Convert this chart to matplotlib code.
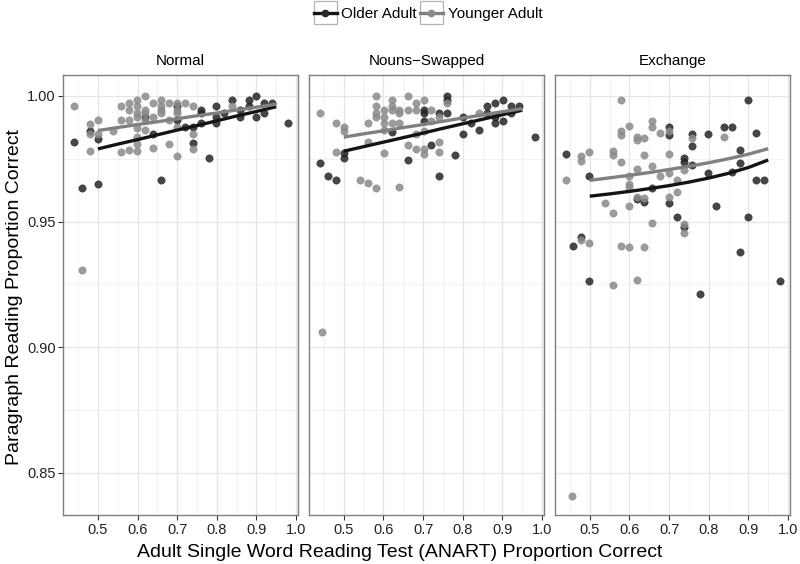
import matplotlib
matplotlib.use('Agg')
import matplotlib.pyplot as plt
from matplotlib.lines import Line2D
from matplotlib.patches import Rectangle
from matplotlib.legend_handler import HandlerLine2D
from matplotlib.ticker import MultipleLocator

plt.rcParams['font.family'] = ['Liberation Sans', 'DejaVu Sans']

panels = ['Normal', 'Nouns\u2212Swapped', 'Exchange']
groups = ['Older Adult', 'Younger Adult']

# Normal
normal_old_x = [0.439, 0.459, 0.479, 0.500, 0.500, 0.620, 0.639, 0.660, 0.700, 0.700, 0.720, 0.740, 0.740, 0.759, 0.759, 0.759,
                0.780, 0.799, 0.799, 0.799, 0.818, 0.839, 0.859, 0.859, 0.880, 0.880, 0.900, 0.900, 0.919, 0.919, 0.940, 0.980]
normal_old_y = [0.9818, 0.9632, 0.9862, 0.9829, 0.9651, 0.9914, 0.9849, 0.9667, 0.9958, 0.9904, 0.9875, 0.9875, 0.9812, 0.9943,
                0.9930, 0.9891, 0.9754, 0.9958, 0.9917, 0.9891, 0.9930, 0.9984, 0.9943, 0.9917, 0.9984, 0.9958, 0.9999, 0.9917,
                0.9971, 0.9930, 0.9971, 0.9891]
normal_young_x = [0.439, 0.479, 0.479, 0.479, 0.500, 0.500, 0.538, 0.559, 0.559, 0.559, 0.578, 0.578, 0.578, 0.578, 0.599, 0.599,
                  0.599, 0.599, 0.599, 0.599, 0.599, 0.599, 0.620, 0.620, 0.620, 0.620, 0.620, 0.639, 0.639, 0.639, 0.660, 0.660,
                  0.660, 0.660, 0.679, 0.679, 0.679, 0.700, 0.700, 0.700, 0.700, 0.700, 0.720, 0.740, 0.740, 0.740, 0.839, 0.459]
normal_young_y = [0.9958, 0.9888, 0.9849, 0.9780, 0.9904, 0.9849, 0.9862, 0.9958, 0.9904, 0.9776, 0.9971, 0.9945, 0.9904, 0.9786,
                  0.9984, 0.9958, 0.9930, 0.9917, 0.9872, 0.9838, 0.9807, 0.9780, 0.9999, 0.9943, 0.9930, 0.9904, 0.9864, 0.9971,
                  0.9917, 0.9793, 0.9984, 0.9958, 0.9943, 0.9930, 0.9971, 0.9904, 0.9809, 0.9971, 0.9943, 0.9930, 0.9875, 0.9759,
                  0.9971, 0.9958, 0.9849, 0.9790, 0.9958, 0.9306]

# Nouns-Swapped
swapped_old_x = [0.440, 0.461, 0.481, 0.500, 0.500, 0.621, 0.661, 0.701, 0.701, 0.701, 0.721, 0.741, 0.741, 0.761, 0.761, 0.761,
                 0.781, 0.801, 0.801, 0.821, 0.842, 0.861, 0.861, 0.882, 0.882, 0.882, 0.902, 0.902, 0.922, 0.922, 0.941, 0.981]
swapped_old_y = [0.9734, 0.9680, 0.9667, 0.9772, 0.9753, 0.9855, 0.9746, 0.9943, 0.9930, 0.9901, 0.9805, 0.9930, 0.9680, 0.9999,
                 0.9984, 0.9930, 0.9763, 0.9917, 0.9849, 0.9891, 0.9864, 0.9958, 0.9930, 0.9971, 0.9917, 0.9891, 0.9984, 0.9901,
                 0.9958, 0.9930, 0.9958, 0.9836]
swapped_young_x = [0.440, 0.481, 0.481, 0.500, 0.500, 0.540, 0.561, 0.561, 0.561, 0.581, 0.581, 0.581, 0.581, 0.581, 0.601, 0.601,
                   0.601, 0.601, 0.601, 0.621, 0.621, 0.621, 0.621, 0.640, 0.640, 0.640, 0.640, 0.661, 0.661, 0.661, 0.681, 0.681,
                   0.681, 0.681, 0.701, 0.701, 0.701, 0.701, 0.721, 0.721, 0.741, 0.741, 0.741, 0.761, 0.842, 0.444]
swapped_young_y = [0.9930, 0.9891, 0.9776, 0.9875, 0.9862, 0.9667, 0.9891, 0.9818, 0.9654, 0.9999, 0.9958, 0.9930, 0.9917, 0.9632,
                   0.9943, 0.9917, 0.9891, 0.9864, 0.9772, 0.9984, 0.9958, 0.9943, 0.9891, 0.9943, 0.9930, 0.9891, 0.9638, 0.9999,
                   0.9943, 0.9805, 0.9971, 0.9943, 0.9849, 0.9790, 0.9984, 0.9862, 0.9790, 0.9770, 0.9943, 0.9901, 0.9917, 0.9816,
                   0.9776, 0.9971, 0.9930, 0.9060]

# Exchange
exchange_old_x = [0.439, 0.498, 0.658, 0.699, 0.699, 0.738, 0.738, 0.759, 0.759, 0.759, 0.799, 0.799, 0.839, 0.859, 0.859, 0.880,
                  0.880, 0.900, 0.919, 0.919, 0.939, 0.619, 0.638, 0.699, 0.719, 0.738, 0.819, 0.900, 0.458, 0.477, 0.880, 0.498,
                  0.779, 0.980]
exchange_old_y = [0.9767, 0.9680, 0.9632, 0.9875, 0.9846, 0.9754, 0.9737, 0.9849, 0.9799, 0.9726, 0.9849, 0.9693, 0.9875, 0.9875,
                  0.9697, 0.9786, 0.9733, 0.9984, 0.9851, 0.9667, 0.9667, 0.9589, 0.9576, 0.9572, 0.9519, 0.9480, 0.9563, 0.9519,
                  0.9401, 0.9440, 0.9377, 0.9263, 0.9213, 0.9263]
exchange_young_x = [0.439, 0.477, 0.477, 0.498, 0.558, 0.558, 0.578, 0.578, 0.578, 0.578, 0.598, 0.598, 0.598, 0.598, 0.619, 0.619,
                    0.619, 0.619, 0.638, 0.638, 0.638, 0.658, 0.658, 0.658, 0.678, 0.678, 0.699, 0.699, 0.699, 0.699, 0.719, 0.719,
                    0.738, 0.759, 0.839, 0.538, 0.558, 0.598, 0.658, 0.738, 0.738, 0.477, 0.498, 0.578, 0.598, 0.638, 0.558, 0.619,
                    0.455]
exchange_young_y = [0.9667, 0.9759, 0.9741, 0.9776, 0.9780, 0.9763, 0.9984, 0.9862, 0.9846, 0.9737, 0.9879, 0.9680, 0.9651, 0.9638,
                    0.9836, 0.9825, 0.9711, 0.9599, 0.9832, 0.9763, 0.9592, 0.9901, 0.9875, 0.9720, 0.9851, 0.9680, 0.9862, 0.9767,
                    0.9693, 0.9599, 0.9667, 0.9618, 0.9704, 0.9833, 0.9838, 0.9572, 0.9533, 0.9563, 0.9493, 0.9454, 0.9489, 0.9425,
                    0.9414, 0.9404, 0.9399, 0.9399, 0.9249, 0.9266, 0.8410]

# fitted lines
fit_x = [0.50, 0.55, 0.60, 0.65, 0.70, 0.75, 0.80, 0.85, 0.90, 0.95]
normal_old_fit = [0.9789, 0.9808, 0.9826, 0.9845, 0.9864, 0.9882, 0.9901, 0.9920, 0.9938, 0.9957]
normal_young_fit = [0.9862, 0.9874, 0.9886, 0.9897, 0.9909, 0.9921, 0.9932, 0.9944, 0.9955, 0.9967]
swapped_old_fit = [0.9780, 0.9798, 0.9816, 0.9834, 0.9852, 0.9871, 0.9889, 0.9907, 0.9925, 0.9943]
swapped_young_fit = [0.9836, 0.9849, 0.9861, 0.9874, 0.9886, 0.9899, 0.9912, 0.9924, 0.9937, 0.9949]
exchange_old_fit = [0.9601, 0.9610, 0.9620, 0.9631, 0.9643, 0.9657, 0.9673, 0.9692, 0.9715, 0.9745]
exchange_young_fit = [0.9664, 0.9674, 0.9684, 0.9695, 0.9707, 0.9720, 0.9734, 0.9750, 0.9768, 0.9790]

data = [
    [(normal_old_x, normal_old_y, normal_old_fit), (normal_young_x, normal_young_y, normal_young_fit)],
    [(swapped_old_x, swapped_old_y, swapped_old_fit), (swapped_young_x, swapped_young_y, swapped_young_fit)],
    [(exchange_old_x, exchange_old_y, exchange_old_fit), (exchange_young_x, exchange_young_y, exchange_young_fit)],
]
colors = {'Older Adult': '#262626', 'Younger Adult': '#8a8a8a'}
line_colors = {'Older Adult': '#141414', 'Younger Adult': '#808080'}

fig, axs = plt.subplots(1, 3, figsize=(8, 5.64), dpi=100, sharey=True)
fig.subplots_adjust(left=0.079, right=0.9875, bottom=0.087, top=0.867, wspace=0.047)

for ax, name, pdata in zip(axs, panels, data):
    for grp, (xs, ys, fit) in zip(groups, pdata):
        ax.scatter(xs, ys, s=28, color=colors[grp], alpha=0.85, linewidths=0.4,
                   edgecolors=colors[grp], zorder=3)
    for grp, (xs, ys, fit) in zip(groups, pdata):
        ax.plot(fit_x, fit, color=line_colors[grp], lw=2.4, zorder=4, solid_capstyle='butt')
    ax.set_xlim(0.4125, 1.005)
    ax.set_ylim(0.8333, 1.0083)
    ax.xaxis.set_minor_locator(MultipleLocator(0.05))
    ax.yaxis.set_minor_locator(MultipleLocator(0.025))
    ax.set_xticks([0.5, 0.6, 0.7, 0.8, 0.9, 1.0])
    ax.set_xticklabels(['0.5', '0.6', '0.7', '0.8', '0.9', '1.0'])
    ax.grid(which='major', color='#e6e6e6', lw=0.9)
    ax.grid(which='minor', color='#f0f0f0', lw=0.6)
    ax.set_axisbelow(True)
    ax.tick_params(which='major', direction='out', length=3.5, width=0.8, color='#333333',
                   labelsize=10.5, labelcolor='#222222', pad=2)
    ax.tick_params(which='minor', length=0)
    for sp in ax.spines.values():
        sp.set_color('#7f7f7f')
        sp.set_linewidth(1.0)
    ax.set_title(name, fontsize=11, pad=7)

axs[0].set_yticks([0.85, 0.90, 0.95, 1.00])
axs[0].set_yticklabels(['0.85', '0.90', '0.95', '1.00'])
for ax in axs[1:]:
    ax.tick_params(axis='y', length=0)

fig.supxlabel('Adult Single Word Reading Test (ANART) Proportion Correct', fontsize=14, y=0.005)
fig.text(0.018, 0.473, 'Paragraph Reading Proportion Correct', rotation=90, fontsize=14,
         ha='center', va='center')


class BoxedHandler(HandlerLine2D):
    def create_artists(self, legend, orig_handle, xdescent, ydescent, width, height, fontsize, trans):
        pad = (width - height) / 2
        box = Rectangle((-xdescent, -ydescent - pad), width, width, facecolor='white',
                        edgecolor='#b3b3b3', lw=0.9, transform=trans)
        arts = super().create_artists(legend, orig_handle, xdescent, ydescent, width, height, fontsize, trans)
        return [box] + arts


handles = [Line2D([], [], color=line_colors[g], lw=2.4, marker='o', markersize=4.5,
                  markerfacecolor=colors[g], markeredgecolor=colors[g]) for g in groups]
fig.legend(handles, groups, loc='upper center', bbox_to_anchor=(0.535, 1.012), ncol=2, frameon=False,
           fontsize=11, handlelength=1.5, handletextpad=0.3, columnspacing=0.2,
           handler_map={Line2D: BoxedHandler(numpoints=1)})

plt.savefig('out.png', dpi=100)
